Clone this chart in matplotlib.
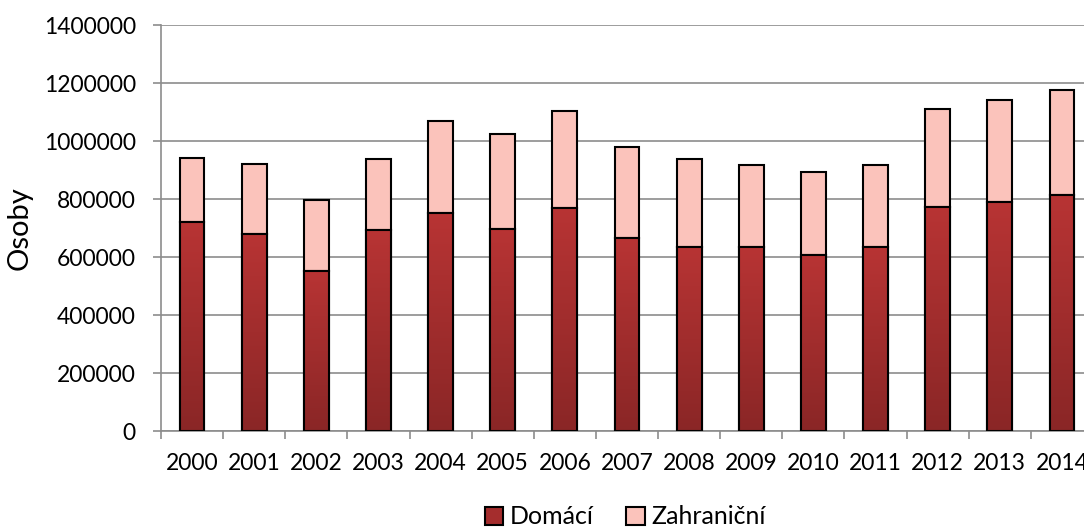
import numpy as np
import matplotlib
matplotlib.use("Agg")
import matplotlib.pyplot as plt
from matplotlib.colors import LinearSegmentedColormap

years = ['2000', '2001', '2002', '2003', '2004', '2005', '2006', '2007',
         '2008', '2009', '2010', '2011', '2012', '2013', '2014']
domaci = [720000, 680000, 552000, 692000, 751000, 698000, 770000, 664000,
          635000, 635000, 607000, 633000, 773000, 791000, 814000]
celkem = [940000, 922000, 798000, 938000, 1069000, 1025000, 1103000, 980000,
          938000, 918000, 894000, 917000, 1109000, 1141000, 1175000]
zahranicni = [c - d for c, d in zip(celkem, domaci)]

plt.rcParams['font.family'] = ['Lato', 'DejaVu Sans']

fig = plt.figure(figsize=(10.84, 5.31), dpi=100)
ax = fig.add_axes([161 / 1084, 100 / 531, 932 / 1084, 406 / 531])

x = np.arange(len(years))
bars_dom = ax.bar(x, domaci, width=0.4, color='#a52d2d', edgecolor='black',
                  linewidth=1.5, zorder=3, label='Domácí')
ax.bar(x, zahranicni, width=0.4, bottom=domaci, color='#fbc3bb',
       edgecolor='black', linewidth=1.5, zorder=3, label='Zahraniční')

# vertical gradient inside the dark bars
cmap = LinearSegmentedColormap.from_list('dom', ['#8a2626', '#b83434'])
grad = np.linspace(0, 1, 256).reshape(-1, 1)
for b in bars_dom:
    bx, by, bw, bh = b.get_x(), b.get_y(), b.get_width(), b.get_height()
    im = ax.imshow(grad, cmap=cmap, origin='lower', aspect='auto',
                   extent=[bx, bx + bw, by, by + bh], zorder=3.1)
    im.set_clip_path(b)
    edge = plt.Rectangle((bx, by), bw, bh, fill=False, edgecolor='black',
                         linewidth=1.5, zorder=3.2)
    ax.add_patch(edge)

ax.set_xlim(-0.5, len(years) - 0.5)
ax.set_ylim(0, 1400000)
ax.set_yticks(range(0, 1400001, 200000))
ax.set_yticklabels([str(v) for v in range(0, 1400001, 200000)])
ax.set_xticks(x)
ax.set_xticklabels(years)
ax.set_xticks(np.arange(-0.5, len(years), 1), minor=True)

ax.grid(axis='y', color='#8c8c8c', linewidth=1.2, zorder=0)
for side in ['top', 'right']:
    ax.spines[side].set_visible(False)
ax.spines['left'].set_color('#8c8c8c')
ax.spines['bottom'].set_color('#8c8c8c')
ax.spines['left'].set_linewidth(1.2)
ax.spines['bottom'].set_linewidth(1.2)

ax.tick_params(axis='y', length=6, width=1.2, color='#8c8c8c', pad=12,
               labelsize=16.5, labelcolor='black')
ax.tick_params(axis='x', which='major', length=0, pad=16, labelsize=16.5,
               labelcolor='black')
ax.tick_params(axis='x', which='minor', length=6, width=1.2, color='#8c8c8c')

ax.set_ylabel('Osoby', fontsize=21)
ax.yaxis.set_label_coords(-128 / 932, 0.5)

handles, labels = ax.get_legend_handles_labels()
leg = fig.legend(handles, labels, loc='center', bbox_to_anchor=(625 / 1084, 14 / 531),
                 ncol=2, frameon=False, fontsize=18, handlelength=0.75,
                 handleheight=0.75, handletextpad=0.25, columnspacing=1.3)

fig.savefig('out.png', dpi=100)
